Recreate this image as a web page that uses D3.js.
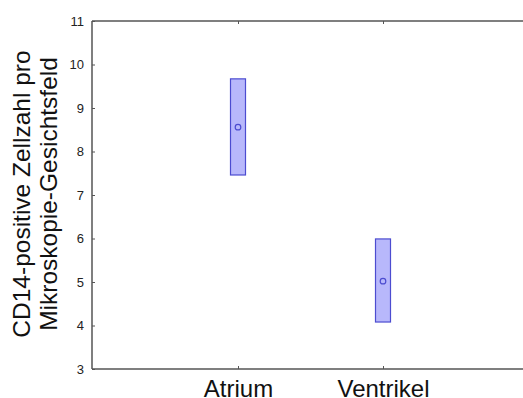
<!DOCTYPE html>
<html>
<head>
<meta charset="utf-8">
<title>CD14-positive Zellzahl</title>
<script src="https://cdnjs.cloudflare.com/ajax/libs/d3/7.8.5/d3.min.js"></script>
<style>
	html, body { margin: 0; padding: 0; background: #fff; }
	svg { display: block; font-family: 'Liberation Sans', Arial, sans-serif; }
</style>
</head>
<body>
<svg id="chart" width="523" height="398"></svg>
<script>
	// data
	var categories = ['Atrium', 'Ventrikel'];
	var means = [8.56, 5.02];
	var upper = [9.67, 5.99];
	var lower = [7.46, 4.08];
	var yTicks = [3, 4, 5, 6, 7, 8, 9, 10, 11];

	var svg = d3.select('#chart');
	var m = { left: 92, right: 523, top: 21, bottom: 369 };

	var x = d3.scalePoint().domain(categories).range([238, 383]);
	var y = d3.scaleLinear().domain([3, 11]).range([m.bottom, m.top]);

	var axisColor = '#555';

	// frame: left, top, bottom (no right border)
	svg.append('line').attr('x1', m.left).attr('x2', m.left).attr('y1', m.top).attr('y2', m.bottom)
		.attr('stroke', axisColor).attr('stroke-width', 1.5);
	svg.append('line').attr('x1', m.left).attr('x2', m.right).attr('y1', m.top).attr('y2', m.top)
		.attr('stroke', axisColor).attr('stroke-width', 1.5);
	svg.append('line').attr('x1', m.left).attr('x2', m.right).attr('y1', m.bottom).attr('y2', m.bottom)
		.attr('stroke', axisColor).attr('stroke-width', 1.5);

	// y axis ticks + labels
	var yAxis = d3.axisLeft(y).tickValues(yTicks).tickSizeInner(-3).tickSizeOuter(0).tickPadding(8);
	var ga = svg.append('g').attr('transform', 'translate(' + m.left + ',0)').call(yAxis);
	ga.select('.domain').remove();
	ga.selectAll('.tick line').attr('stroke', axisColor);
	ga.selectAll('.tick text').attr('fill', '#222').style('font-size', '13px')
		.style('font-family', "'Liberation Sans', Arial, sans-serif");

	// x axis: tiny inward ticks on bottom and top
	var gx = svg.append('g').attr('transform', 'translate(0,' + m.bottom + ')')
		.call(d3.axisBottom(x).tickSizeInner(-3).tickSizeOuter(0).tickPadding(11));
	gx.select('.domain').remove();
	gx.selectAll('.tick line').attr('stroke', axisColor);
	gx.selectAll('.tick text').attr('fill', '#111').style('font-size', '24px')
		.style('font-family', "'Liberation Sans', Arial, sans-serif");
	var gt = svg.append('g').attr('transform', 'translate(0,' + m.top + ')')
		.call(d3.axisTop(x).tickSizeInner(-3).tickSizeOuter(0).tickFormat(''));
	gt.select('.domain').remove();
	gt.selectAll('.tick line').attr('stroke', axisColor);

	// y label
	var yl = svg.append('text').attr('transform', 'translate(0,194) rotate(-90)')
		.attr('text-anchor', 'middle').attr('fill', '#111').style('font-size', '24.5px');
	yl.append('tspan').attr('x', 0).attr('y', 30).text('CD14-positive Zellzahl pro');
	yl.append('tspan').attr('x', 0).attr('y', 57).text('Mikroskopie-Gesichtsfeld');

	// boxes and mean points
	var bw = 15;
	var g = svg.append('g');
	g.selectAll('rect').data(categories).join('rect')
		.attr('x', function(d) { return x(d) - bw / 2; })
		.attr('y', function(d, i) { return y(upper[i]); })
		.attr('width', bw)
		.attr('height', function(d, i) { return y(lower[i]) - y(upper[i]); })
		.attr('fill', '#b8b8fb').attr('stroke', '#4c4cd0').attr('stroke-width', 1.2);
	g.selectAll('circle').data(categories).join('circle')
		.attr('cx', function(d) { return x(d); })
		.attr('cy', function(d, i) { return y(means[i]); })
		.attr('r', 2.8)
		.attr('fill', 'none').attr('stroke', '#4c4cd0').attr('stroke-width', 1.2);
</script>
</body>
</html>
